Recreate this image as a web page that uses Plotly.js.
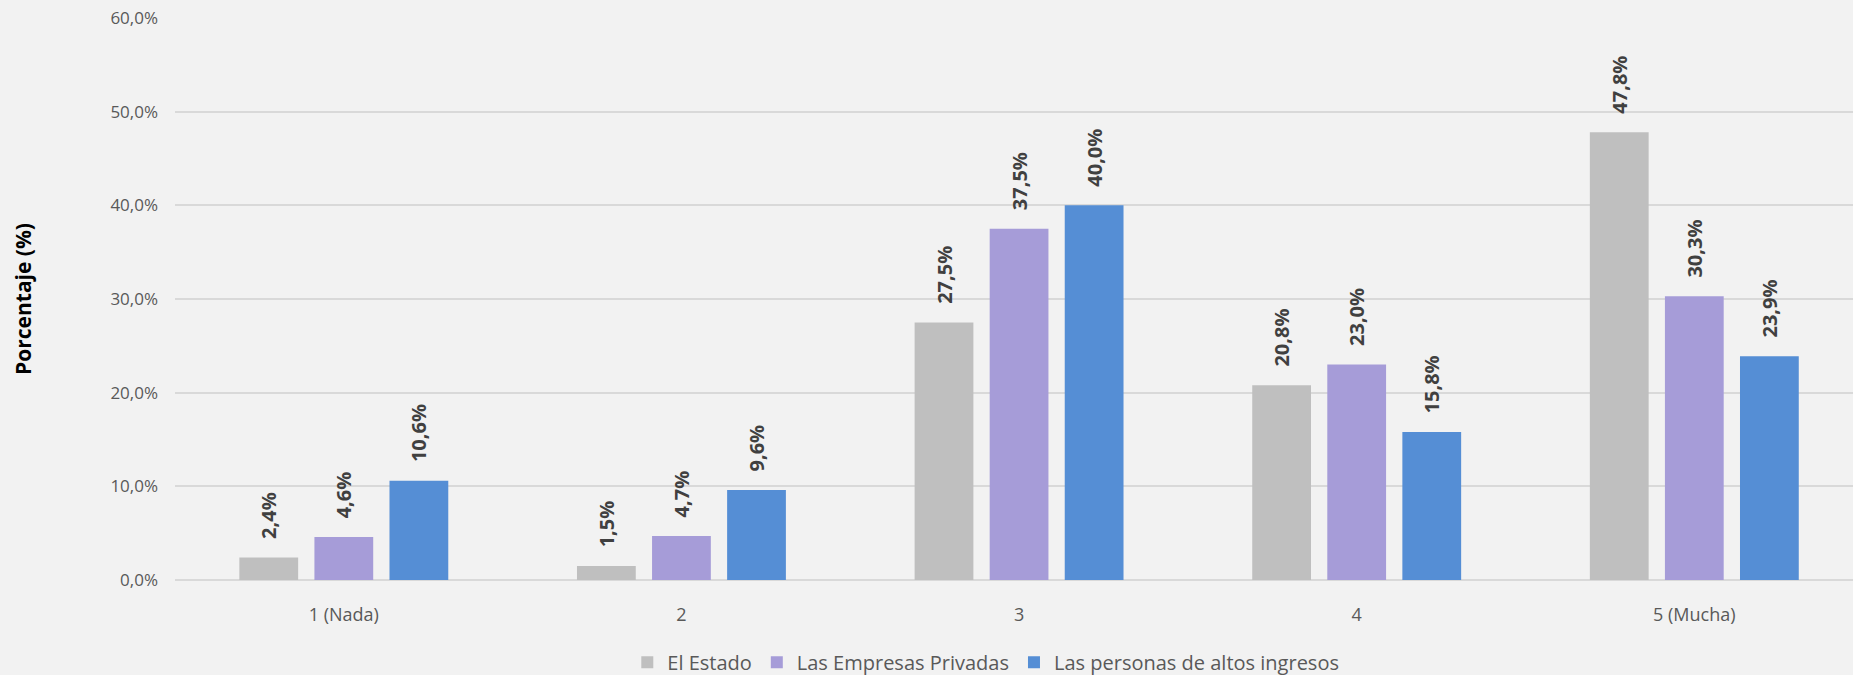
<!DOCTYPE html>
<html>
<head>
<meta charset="utf-8">
<script src="https://cdn.plot.ly/plotly-3.0.1.min.js"></script>
<style>
html,body{margin:0;padding:0;background:#f2f2f2;}
#chart{width:1853px;height:675px;}
</style>
</head>
<body>
<div id="chart"></div>
<script>
const categories = ["1 (Nada)", "2", "3", "4", "5 (Mucha)"];
const seriesNames = ["El Estado", "Las Empresas Privadas", "Las personas de altos ingresos"];
const elEstado = [2.4, 1.5, 27.5, 20.8, 47.8];
const empresasPrivadas = [4.6, 4.7, 37.5, 23.0, 30.3];
const altosIngresos = [10.6, 9.6, 40.0, 15.8, 23.9];
const yTicks = [0, 10, 20, 30, 40, 50, 60];

const colors = ["#bfbfbf", "#a69cd8", "#558ed5"];
const allValues = [elEstado, empresasPrivadas, altosIngresos];
const fmt = v => v.toFixed(1).replace('.', ',') + '%';
const PAD = '\u00a0\u00a0\u00a0';
const FONT = 'Open Sans, sans-serif';

const traces = allValues.map((vals, i) => ({
  type: 'bar',
  name: seriesNames[i],
  x: categories,
  y: vals,
  text: vals.map(v => PAD + fmt(v)),
  textposition: 'outside',
  textangle: -90,
  constraintext: 'none',
  cliponaxis: false,
  textfont: {family: FONT, size: 20, color: '#404040', weight: 'bold'},
  marker: {color: colors[i]},
  hoverinfo: 'x+y'
}));

const layout = {
  width: 1853, height: 675,
  paper_bgcolor: '#f2f2f2', plot_bgcolor: '#f2f2f2',
  margin: {l: 175, r: 0, t: 18, b: 95, autoexpand: false},
  barmode: 'group',
  bargap: 0.333,
  bargroupgap: 0.217,
  font: {family: FONT, color: '#595959', size: 18},
  xaxis: {
    type: 'category',
    range: [-0.5, 4.47],
    showgrid: false, zeroline: false, showline: false, ticks: '',
    ticklabelstandoff: 22,
    tickfont: {size: 18, color: '#595959'}
  },
  yaxis: {
    range: [0, 60], tickvals: yTicks, ticktext: yTicks.map(fmt),
    gridcolor: '#d9d9d9', gridwidth: 2, zeroline: true, zerolinecolor: '#d9d9d9', zerolinewidth: 2,
    showline: false, ticks: '', ticklabelstandoff: 16,
    tickfont: {size: 17, color: '#595959'},
    title: {text: 'Porcentaje (%)', font: {size: 21, color: '#000000', weight: 'bold'}, standoff: 73}
  },
  showlegend: true,
  legend: {orientation: 'h', x: 0.532, xanchor: 'center', xref: 'container', y: 0.019, yanchor: 'middle', yref: 'container',
    font: {size: 20, color: '#595959'}, bgcolor: 'rgba(0,0,0,0)'},
};

Plotly.newPlot('chart', traces, layout, {displayModeBar: false, staticPlot: true});
</script>
</body>
</html>
